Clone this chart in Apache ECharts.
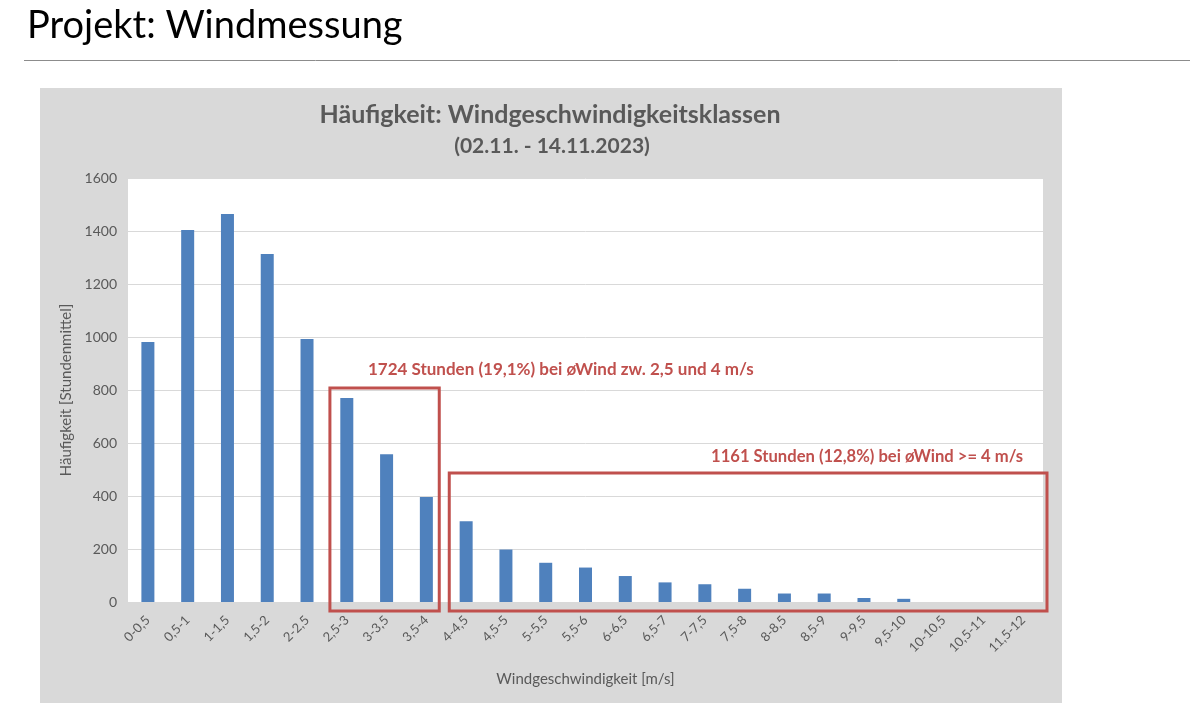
<!DOCTYPE html>
<html>
<head>
<meta charset="utf-8">
<script src="https://cdn.jsdelivr.net/npm/echarts@6/dist/echarts.min.js"></script>
<style>
html,body{margin:0;padding:0;background:#fff;}
#c{width:1190px;height:720px;}
</style>
</head>
<body>
<div id="c"></div>
<script>
const categories = ['0-0,5','0,5-1','1-1,5','1,5-2','2-2,5','2,5-3','3-3,5','3,5-4','4-4,5','4,5-5','5-5,5','5,5-6','6-6,5','6,5-7','7-7,5','7,5-8','8-8,5','8,5-9','9-9,5','9,5-10','10-10,5','10,5-11','11,5-12'];
const hours = [981,1404,1464,1313,992,770,558,396,305,198,148,130,98,74,67,50,32,32,15,12,0,0,0];
const yTicks = {min:0, max:1600, interval:200};
const note1 = '1724 Stunden (19,1%) bei \u00f8Wind zw. 2,5 und 4 m/s';
const note2 = '1161 Stunden (12,8%) bei \u00f8Wind >= 4 m/s';
// box ranges: [first category index, last category index, top value]
const box1 = [5, 7, 808];
const box2 = [8, 22, 487];

const FONT = 'Lato, "Open Sans", sans-serif';
const chart = echarts.init(document.getElementById('c'));
const baseGraphic = [
  {type: 'rect', z: -10, silent: true, shape: {x: 40, y: 88, width: 1022, height: 615}, style: {fill: '#d9d9d9'}},
  {type: 'line', z: -10, silent: true, shape: {x1: 24, y1: 60.5, x2: 1190, y2: 60.5}, style: {stroke: '#8c8c8c', lineWidth: 1}}
];
const option = {
  backgroundColor: '#ffffff',
  textStyle: {fontFamily: FONT},
  title: [
    {text: 'Projekt: Windmessung', left: 22, top: 2,
     textStyle: {fontFamily: FONT, fontSize: 38, fontWeight: 'normal', color: '#000'}},
    {text: 'Häufigkeit: Windgeschwindigkeitsklassen', left: 545, top: 97, textAlign: 'center',
     textStyle: {fontFamily: FONT, fontSize: 25, fontWeight: 'bold', color: '#595959'}},
    {text: '(02.11. - 14.11.2023)', left: 547, top: 131, textAlign: 'center',
     textStyle: {fontFamily: FONT, fontSize: 21, fontWeight: 'bold', color: '#595959'}}
  ],
  grid: {left: 128, top: 178, width: 915, height: 424, show: true,
         backgroundColor: '#ffffff', borderWidth: 0, containLabel: false},
  xAxis: {
    type: 'category', data: categories,
    axisLine: {show: true, lineStyle: {color: '#d9d9d9'}},
    axisTick: {show: false},
    axisLabel: {interval: 0, rotate: 45, color: '#595959', fontSize: 13, margin: 16, fontFamily: FONT},
    name: 'Windgeschwindigkeit [m/s]', nameLocation: 'middle', nameGap: 70,
    nameTextStyle: {color: '#595959', fontSize: 15, fontFamily: FONT}
  },
  yAxis: {
    type: 'value', min: yTicks.min, max: yTicks.max, interval: yTicks.interval,
    axisLine: {show: false}, axisTick: {show: false},
    splitLine: {lineStyle: {color: '#d9d9d9', width: 1}},
    axisLabel: {color: '#595959', fontSize: 14, margin: 11, fontFamily: FONT,
                formatter: function (v) { return String(v); }},
    name: 'Häufigkeit [Stundenmittel]', nameLocation: 'middle', nameRotate: 90, nameGap: 48,
    nameTextStyle: {color: '#595959', fontSize: 15, fontFamily: FONT}
  },
  series: [{
    type: 'bar', data: hours, barWidth: 13,
    itemStyle: {color: '#4f81bd'},
    z: 3
  }],
  graphic: baseGraphic
};
chart.setOption(option);

function boxRect(b) {
  const catW = chart.convertToPixel({xAxisIndex: 0}, 1) - chart.convertToPixel({xAxisIndex: 0}, 0);
  const xl = chart.convertToPixel({xAxisIndex: 0}, b[0]) - catW / 2 + 3;
  const xr = chart.convertToPixel({xAxisIndex: 0}, b[1]) + catW / 2 - (b[1] === categories.length - 1 ? -4 : 7);
  const yt = chart.convertToPixel({yAxisIndex: 0}, b[2]);
  const yb = chart.convertToPixel({yAxisIndex: 0}, 0) + 9;
  return {x: xl, y: yt, width: xr - xl, height: yb - yt};
}
const r1 = boxRect(box1), r2 = boxRect(box2);
chart.setOption({graphic: baseGraphic.concat([
  {type: 'rect', z: 10, silent: true, shape: r1, style: {fill: 'none', stroke: '#c0504d', lineWidth: 3}},
  {type: 'rect', z: 10, silent: true, shape: r2, style: {fill: 'none', stroke: '#c0504d', lineWidth: 3}},
  {type: 'text', z: 10, silent: true, x: r1.x + 38, y: r1.y - 27,
   style: {text: note1, fill: '#c0504d', font: 'bold 17px ' + FONT}},
  {type: 'text', z: 10, silent: true, x: r2.x + r2.width - 24, y: r2.y - 25,
   style: {text: note2, fill: '#c0504d', font: 'bold 16.6px ' + FONT, textAlign: 'right'}}
])}, {replaceMerge: ['graphic']});
</script>
</body>
</html>
